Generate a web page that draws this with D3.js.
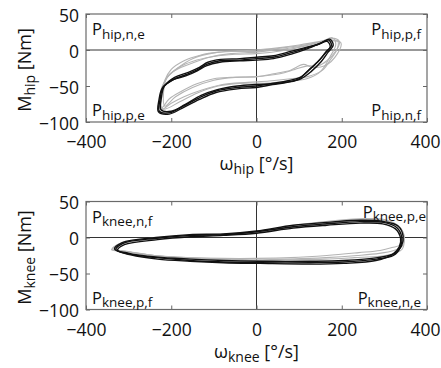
<!DOCTYPE html>
<html>
<head>
<meta charset="utf-8">
<script src="https://cdn.jsdelivr.net/npm/d3@7"></script>
<style>
  body { margin: 0; background: #fff; }
  text { font-family: "Open Sans", "Noto Sans", sans-serif; fill: #111; }
</style>
</head>
<body>
<svg id="chart" width="441" height="368"></svg>
<script>
// axis ticks
const xTicks = [-400, -200, 0, 200, 400];
const yTicks = [-100, -50, 0, 50];

// quadrant labels: top-left, top-right, bottom-left, bottom-right
const hipQuadLabels = ["hip,n,e", "hip,p,f", "hip,p,e", "hip,n,f"];
const kneeQuadLabels = ["knee,n,f", "knee,p,e", "knee,p,f", "knee,n,e"];

// hip loops [angular velocity (deg/s), moment (Nm)]
const hipGrey1 = [[-222,-80],[-222,-60],[-215,-42],[-200,-27],[-170,-15],[-130,-7],[-90,-3],[-40,-1],[0,0],[50,3],[100,7],[150,12],[185,16],[195,11],[185,-2],[165,-15],[145,-22],[120,-22],[90,-27],[55,-33],[0,-37],[-60,-38],[-100,-40],[-140,-47],[-175,-57],[-205,-68]];
const hipGrey2 = [[-225,-83],[-222,-55],[-205,-35],[-175,-22],[-140,-14],[-100,-9],[-50,-6],[0,-5],[60,-1],[110,5],[160,12],[190,13],[190,2],[175,-12],[155,-28],[120,-37],[80,-40],[30,-43],[-20,-45],[-80,-48],[-130,-56],[-170,-65],[-200,-74]];
const hipGrey3 = [[-215,-78],[-218,-58],[-210,-38],[-190,-28],[-150,-18],[-110,-10],[-60,-5],[0,-3],[60,1],[120,7],[170,13],[198,10],[190,-5],[160,-22],[130,-24],[110,-20],[80,-28],[40,-33],[0,-37],[-50,-38],[-100,-42],[-150,-52],[-190,-65]];
const hipGrey4 = [[-220,-82],[-226,-62],[-212,-40],[-185,-25],[-150,-12],[-100,-4],[-50,-2],[0,-2],[50,2],[100,6],[150,11],[178,17],[186,8],[172,-10],[150,-30],[118,-40],[80,-43],[30,-46],[-30,-46],[-90,-50],[-140,-60],[-180,-72]];
const hipBlack1 = [[169,14],[176,6],[165,-1],[149,-13],[125,-27],[102,-38],[71,-43],[39,-46],[0,-50],[-45,-52],[-95,-57],[-133,-66],[-172,-78],[-203,-87],[-228,-85],[-226,-68],[-219,-52],[-195,-41],[-164,-34],[-137,-27],[-117,-20],[-86,-15],[-39,-14],[0,-12],[39,-10],[79,-4],[118,3],[149,9]];
const hipBlack2 = [[172,15],[180,7],[168,-3],[152,-16],[128,-30],[104,-40],[72,-45],[38,-48],[0,-52],[-45,-54],[-95,-59],[-135,-69],[-175,-81],[-205,-89],[-230,-86],[-229,-70],[-221,-53],[-198,-42],[-166,-36],[-139,-29],[-118,-22],[-86,-17],[-39,-15],[0,-14],[40,-12],[80,-6],[120,2],[152,10]];
const hipBlack3 = [[166,12],[173,4],[162,-4],[146,-15],[122,-28],[100,-40],[68,-45],[35,-47],[0,-48],[-45,-50],[-92,-55],[-130,-63],[-168,-76],[-200,-85],[-224,-83],[-223,-66],[-216,-50],[-192,-38],[-160,-31],[-134,-24],[-114,-17],[-84,-13],[-39,-12],[0,-10],[40,-8],[80,-2],[118,4],[146,8]];

// knee loops
const kneeGrey1 = [[-340,-17],[-320,-9],[-240,-2],[-160,2],[-80,4],[0,8],[80,16],[160,22],[240,26],[300,25],[335,15],[345,2],[338,-10],[318,-14],[290,-18],[240,-21],[165,-25],[80,-28],[0,-29],[-80,-29],[-160,-28],[-240,-25],[-305,-19]];
const kneeGrey2 = [[-335,-15],[-315,-7],[-230,0],[-150,3],[-70,5],[0,8],[90,15],[170,21],[250,25],[305,23],[338,12],[346,-2],[342,-16],[325,-22],[290,-26],[230,-28],[160,-30],[80,-31],[0,-32],[-80,-31],[-160,-29],[-240,-25],[-300,-20]];
const kneeGrey3 = [[-338,-16],[-318,-8],[-236,-1],[-156,2],[-76,4],[0,7],[85,14],[165,20],[245,24],[302,24],[336,14],[347,0],[340,-13],[322,-18],[288,-22],[236,-25],[162,-28],[80,-30],[0,-31],[-80,-30],[-160,-28],[-240,-25],[-302,-20]];
const kneeBlack1 = [[-330,-17],[-313,-8],[-234,-1],[-156,3],[-78,4],[0,8],[86,15],[165,19],[243,22],[298,21],[329,14],[341,0],[337,-14],[321,-25],[282,-30],[204,-34],[126,-35],[8,-35],[-78,-34],[-156,-32],[-234,-28],[-297,-23]];
const kneeBlack2 = [[-326,-18],[-310,-10],[-232,-3],[-155,1],[-78,3],[0,6],[86,13],[165,17],[243,20],[296,19],[326,12],[338,-1],[335,-13],[320,-23],[280,-32],[204,-36],[126,-37],[8,-36],[-78,-35],[-156,-33],[-232,-30],[-295,-24]];
const kneeBlack3 = [[-333,-16],[-315,-7],[-236,0],[-157,4],[-78,5],[0,9],[86,17],[165,21],[243,24],[300,22],[332,16],[344,2],[340,-12],[324,-22],[284,-28],[204,-32],[126,-33],[8,-33],[-78,-32],[-156,-30],[-236,-27],[-299,-22]];

const svg = d3.select("#chart");
const width = 341, height = 108;

function drawPanel(id, top, joint, quadLabels, greys, blacks) {
  let g = svg.append("g").attr("transform", "translate(86," + top + ")");

  let x = d3.scaleLinear().domain([-400, 400]).range([0, width]);
  let y = d3.scaleLinear().domain([-100, 50]).range([height, 0]);

  g.append("clipPath").attr("id", "clip-" + id)
    .append("rect").attr("width", width).attr("height", height);

  // zero lines
  g.append("line").attr("x1", 0).attr("x2", width).attr("y1", y(0)).attr("y2", y(0))
    .attr("stroke", "#333").attr("stroke-width", 1);
  g.append("line").attr("x1", x(0)).attr("x2", x(0)).attr("y1", 0).attr("y2", height)
    .attr("stroke", "#333").attr("stroke-width", 1);

  let line = d3.line()
    .x(d => x(d[0]))
    .y(d => y(d[1]))
    .curve(d3.curveCatmullRomClosed.alpha(0.5));

  let loops = g.append("g").attr("clip-path", "url(#clip-" + id + ")");
  loops.selectAll(".grey").data(greys).enter().append("path")
    .attr("class", "grey")
    .attr("d", line)
    .attr("fill", "none")
    .attr("stroke", "#b4b4b4")
    .attr("stroke-width", 1.1);
  loops.selectAll(".black").data(blacks).enter().append("path")
    .attr("class", "black")
    .attr("d", line)
    .attr("fill", "none")
    .attr("stroke", "#111")
    .attr("stroke-width", 1.4);

  // axes, inward ticks on all sides
  let axB = g.append("g").attr("transform", "translate(0," + height + ")")
    .call(d3.axisBottom(x).tickValues(xTicks).tickSize(-4).tickPadding(10));
  let axT = g.append("g")
    .call(d3.axisTop(x).tickValues(xTicks).tickSize(-4).tickFormat(""));
  let axL = g.append("g")
    .call(d3.axisLeft(y).tickValues(yTicks).tickSize(-4).tickPadding(8));
  let axR = g.append("g").attr("transform", "translate(" + width + ",0)")
    .call(d3.axisRight(y).tickValues(yTicks).tickSize(-4).tickFormat(""));
  [axB, axT, axL, axR].forEach(a => {
    a.select(".domain").remove();
    a.selectAll(".tick line").attr("stroke", "#666");
  });
  axB.selectAll(".tick text")
    .attr("font-size", 17.5).attr("fill", "#111")
    .attr("dy", null).attr("y", 26);
  // the last label would run past the page edge, keep it inside
  axB.selectAll(".tick text").filter(d => d === xTicks[xTicks.length - 1])
    .attr("text-anchor", "end").attr("x", 13);
  axL.selectAll(".tick text")
    .attr("font-size", 17.5).attr("fill", "#111")
    .attr("dy", "0.42em").attr("x", -7);

  // box
  g.append("rect").attr("width", width).attr("height", height)
    .attr("fill", "none").attr("stroke", "#6a6a6a").attr("stroke-width", 1.2);

  // quadrant labels
  let corners = [
    { x: 6, y: 21, anchor: "start" },
    { x: width - 6, y: 21, anchor: "end" },
    { x: 6, y: height - 6, anchor: "start" },
    { x: width - 6, y: height - 6, anchor: "end" }
  ];
  if (joint === "knee") corners[1] = { x: width - 1, y: 16, anchor: "end" };
  quadLabels.forEach((lab, i) => {
    let c = corners[i];
    let t = g.append("text").attr("x", c.x).attr("y", c.y)
      .attr("text-anchor", c.anchor).attr("font-size", 16.5);
    t.append("tspan").text("P");
    t.append("tspan").attr("dy", 3.5).attr("font-size", 13.5).text(lab);
  });

  // x label
  let xl = g.append("text").attr("x", width / 2).attr("y", height + 48)
    .attr("text-anchor", "middle").attr("font-size", 18);
  xl.append("tspan").text("ω");
  xl.append("tspan").attr("dy", 4).attr("font-size", 14).text(joint);
  xl.append("tspan").attr("dy", -4).text(" [°/s]");

  // y label
  let yl = g.append("text")
    .attr("transform", "translate(-55," + (height / 2 + 2) + ") rotate(-90)")
    .attr("text-anchor", "middle").attr("font-size", 18);
  yl.append("tspan").text("M");
  yl.append("tspan").attr("dy", 4).attr("font-size", 14).text(joint);
  yl.append("tspan").attr("dy", -4).text(" [Nm]");
}

drawPanel("hip", 14, "hip", hipQuadLabels,
  [hipGrey1, hipGrey2, hipGrey3, hipGrey4], [hipBlack1, hipBlack2, hipBlack3]);
drawPanel("knee", 201.5, "knee", kneeQuadLabels,
  [kneeGrey1, kneeGrey2, kneeGrey3], [kneeBlack1, kneeBlack2, kneeBlack3]);
</script>
</body>
</html>
